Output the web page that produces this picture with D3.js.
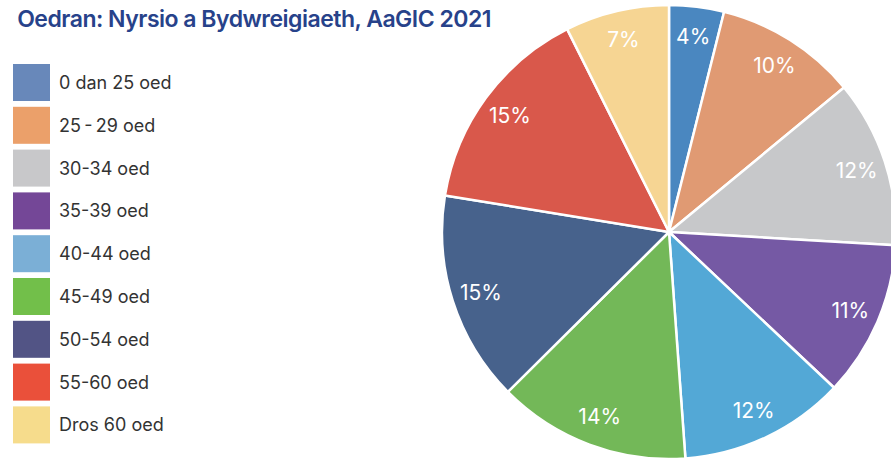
<!DOCTYPE html>
<html>
<head>
<meta charset="utf-8">
<script src="https://cdn.jsdelivr.net/npm/d3@7"></script>
<style>
  body { margin: 0; background: #fff; overflow: hidden; }
  svg { display: block; font-family: Inter, "Noto Sans", sans-serif; }
</style>
</head>
<body>
<svg id="chart" width="891" height="459"></svg>
<script>
var title = "Oedran: Nyrsio a Bydwreigiaeth, AaGIC 2021";
var categories = ["0 dan 25 oed", "25\u2009-\u200929 oed", "30-34 oed", "35-39 oed", "40-44 oed",
                  "45-49 oed", "50-54 oed", "55-60 oed", "Dros 60 oed"];
var shares = [3.9, 10.1, 11.9, 11.1, 11.8, 13.7, 15.0, 15.0, 7.4];
var labels = ["4%", "10%", "12%", "11%", "12%", "14%", "15%", "15%", "7%"];
var sliceColors = ["#4a87c0", "#e09a73", "#c7c8ca", "#7559a4", "#53a8d6",
                   "#73b858", "#47628c", "#d9584b", "#f6d593"];
var legendColors = ["#6888ba", "#eba06a", "#c8c8ca", "#744797", "#7bafd6",
                    "#72bf4a", "#525485", "#ea503a", "#f6dc8c"];

var svg = d3.select("#chart");

svg.append("text")
    .attr("x", 491)
    .attr("y", 27)
    .attr("text-anchor", "end")
    .style("font-size", "23px")
    .style("font-weight", "600")
    .style("letter-spacing", "-0.5px")
    .style("fill", "#27428a")
    .text(title);

// legend
var legend = svg.append("g").attr("transform", "translate(13,64)");
var row = legend.selectAll("g")
    .data(categories)
  .enter().append("g")
    .attr("transform", function(d, i) { return "translate(0," + (i * 42.8) + ")"; });

row.append("rect")
    .attr("width", 37)
    .attr("height", 37)
    .attr("fill", function(d, i) { return legendColors[i]; });

row.append("text")
    .attr("x", 46)
    .attr("y", 25)
    .style("font-size", "18px")
    .style("fill", "#333")
    .text(function(d) { return d; });

// pie
var radius = 227;
var g = svg.append("g").attr("transform", "translate(669,232)");

var pie = d3.pie().sort(null).value(function(d) { return d; });
var arc = d3.arc().innerRadius(0).outerRadius(radius);
var labelArc = d3.arc().innerRadius(radius * 0.87).outerRadius(radius * 0.87);

var arcs = pie(shares);

g.selectAll(".slice")
    .data(arcs)
  .enter().append("path")
    .attr("class", "slice")
    .attr("d", arc)
    .attr("fill", function(d, i) { return sliceColors[i]; })
    .attr("stroke", "#fff")
    .attr("stroke-width", 2.5)
    .attr("stroke-linejoin", "round");

g.selectAll(".lbl")
    .data(arcs)
  .enter().append("text")
    .attr("class", "lbl")
    .attr("transform", function(d) { return "translate(" + labelArc.centroid(d) + ")"; })
    .attr("text-anchor", "middle")
    .attr("dy", "0.36em")
    .style("font-size", "21px")
    .style("fill", "#fff")
    .text(function(d, i) { return labels[i]; });
</script>
</body>
</html>
